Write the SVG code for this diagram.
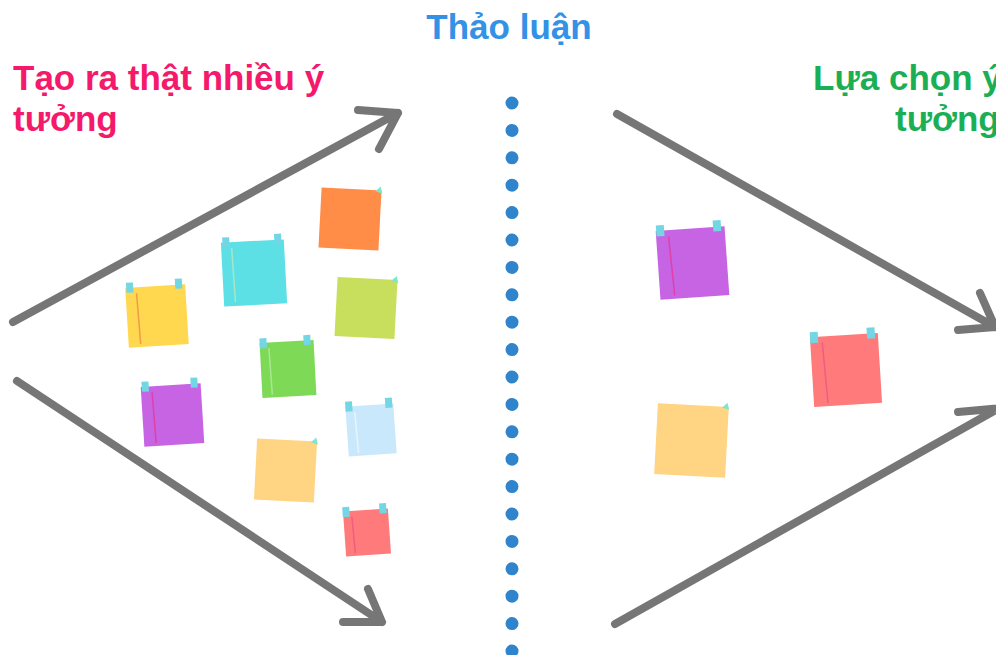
<svg xmlns="http://www.w3.org/2000/svg" width="996" height="655" viewBox="0 0 996 655">
<style>
.t{font-family:"Liberation Sans",Arial,sans-serif;font-weight:bold;font-size:35px}
.arr{fill:none;stroke:#767676;stroke-width:8;stroke-linecap:round;stroke-linejoin:round}
.tape{fill:#72D6E4}
.tab{fill:#7FE6CB}
.fold{fill:none;stroke-width:1.5}
</style>
<rect width="996" height="655" fill="#fff"/>
<text class="t" x="509" y="39" fill="#3391E6" text-anchor="middle">Thảo luận</text>
<text class="t" x="13" y="90" fill="#F5196B">Tạo ra thật nhiều ý</text>
<text class="t" x="13" y="131" fill="#F5196B">tưởng</text>
<text class="t" x="813" y="90" fill="#1BAF55">Lựa chọn ý</text>
<text class="t" x="895" y="131" fill="#1BAF55">tưởng</text>
<line x1="512" y1="103" x2="512" y2="660" stroke="#2F84CC" stroke-width="13" stroke-linecap="round" stroke-dasharray="0 27.4"/>
<g id="connectors">
<path class="arr" d="M13,322 L398,113 M358,110 L398,113 L379,149"/>
<path class="arr" d="M17,381 L382,622 M343,622 L382,622 L368,589"/>
<path class="arr" d="M617,114 L995,327 M958,330 L995,327 L980,293"/>
<path class="arr" d="M615,624 L1003,406 M958,412 L1003,408"/>
</g>
<g id="note-orange" transform="translate(350,219) rotate(3)">
<rect x="-30" y="-30" width="60" height="60" fill="#FF8C47"/>
<polygon class="tab" points="24,-29 29,-34 31,-27"/>
</g>
<g id="note-cyan" transform="translate(254,273) rotate(-3)">
<rect x="-31.5" y="-32" width="63" height="64" fill="#5CE0E6"/>
<path class="fold" stroke="#A6E6C6" d="M-21,-26 L-20,28"/>
<rect class="tape" x="-30" y="-37" width="7" height="10"/>
<rect class="tape" x="22" y="-38" width="7" height="10"/>
</g>
<g id="note-yellow" transform="translate(157,316) rotate(-3.5)">
<rect x="-30" y="-30" width="60" height="60" fill="#FFD84F"/>
<path class="fold" stroke="#F09A4A" d="M-19,-24 L-18,27"/>
<rect class="tape" x="-29" y="-35" width="7" height="10"/>
<rect class="tape" x="20" y="-36" width="7" height="10"/>
</g>
<g id="note-lime" transform="translate(366,308) rotate(3)">
<rect x="-30" y="-29.5" width="60" height="59" fill="#C8DF5E"/>
<polygon class="tab" points="24,-28.5 29,-33.5 31,-26.5"/>
</g>
<g id="note-green" transform="translate(288,369) rotate(-3)">
<rect x="-27" y="-27.5" width="54" height="55" fill="#7ED957"/>
<path class="fold" stroke="#A8E890" d="M-18,-22 L-17,25"/>
<rect class="tape" x="-27" y="-32" width="7" height="10"/>
<rect class="tape" x="17" y="-33" width="7" height="10"/>
</g>
<g id="note-purple" transform="translate(172.5,415) rotate(-3.5)">
<rect x="-30" y="-30" width="60" height="60" fill="#C764E3"/>
<path class="fold" stroke="#E040A8" d="M-19,-24 L-18,27"/>
<rect class="tape" x="-29" y="-35" width="7" height="10"/>
<rect class="tape" x="20" y="-36" width="7" height="10"/>
</g>
<g id="note-peach" transform="translate(285.5,470.5) rotate(3)">
<rect x="-30" y="-30.5" width="60" height="61" fill="#FFD482"/>
<polygon class="tab" points="24,-29.5 29,-34.5 31,-27.5"/>
</g>
<g id="note-lightblue" transform="translate(371,430) rotate(-4)">
<rect x="-24" y="-25" width="48" height="50" fill="#C9E8FB"/>
<path class="fold" stroke="#E6F5FE" d="M-15,-19 L-14,22"/>
<rect class="tape" x="-24" y="-30" width="7" height="10"/>
<rect class="tape" x="16" y="-31" width="7" height="10"/>
</g>
<g id="note-red" transform="translate(367,532.5) rotate(-4)">
<rect x="-22.5" y="-22.5" width="45" height="45" fill="#FF7B7B"/>
<path class="fold" stroke="#F25C80" d="M-14,-17 L-13,20"/>
<rect class="tape" x="-23" y="-27" width="7" height="10"/>
<rect class="tape" x="14" y="-28" width="7" height="10"/>
</g>
<g id="note-purple-r" transform="translate(692.5,263) rotate(-4)">
<rect x="-34.5" y="-34.5" width="69" height="69" fill="#C764E3"/>
<path class="fold" stroke="#E040A8" d="M-22,-28 L-20,31"/>
<rect class="tape" x="-34" y="-40" width="8" height="11"/>
<rect class="tape" x="23" y="-41" width="8" height="11"/>
</g>
<g id="note-red-r" transform="translate(846,370) rotate(-3.5)">
<rect x="-34" y="-35" width="68" height="70" fill="#FF7B7B"/>
<path class="fold" stroke="#F25C80" d="M-22,-29 L-20,32"/>
<rect class="tape" x="-34" y="-40" width="8" height="11"/>
<rect class="tape" x="23" y="-41" width="8" height="11"/>
</g>
<g id="note-peach-r" transform="translate(691.5,440.5) rotate(3)">
<rect x="-35.5" y="-35.5" width="71" height="71" fill="#FFD482"/>
<polygon class="tab" points="29,-34.5 34,-39.5 36,-32.5"/>
</g>
</svg>
